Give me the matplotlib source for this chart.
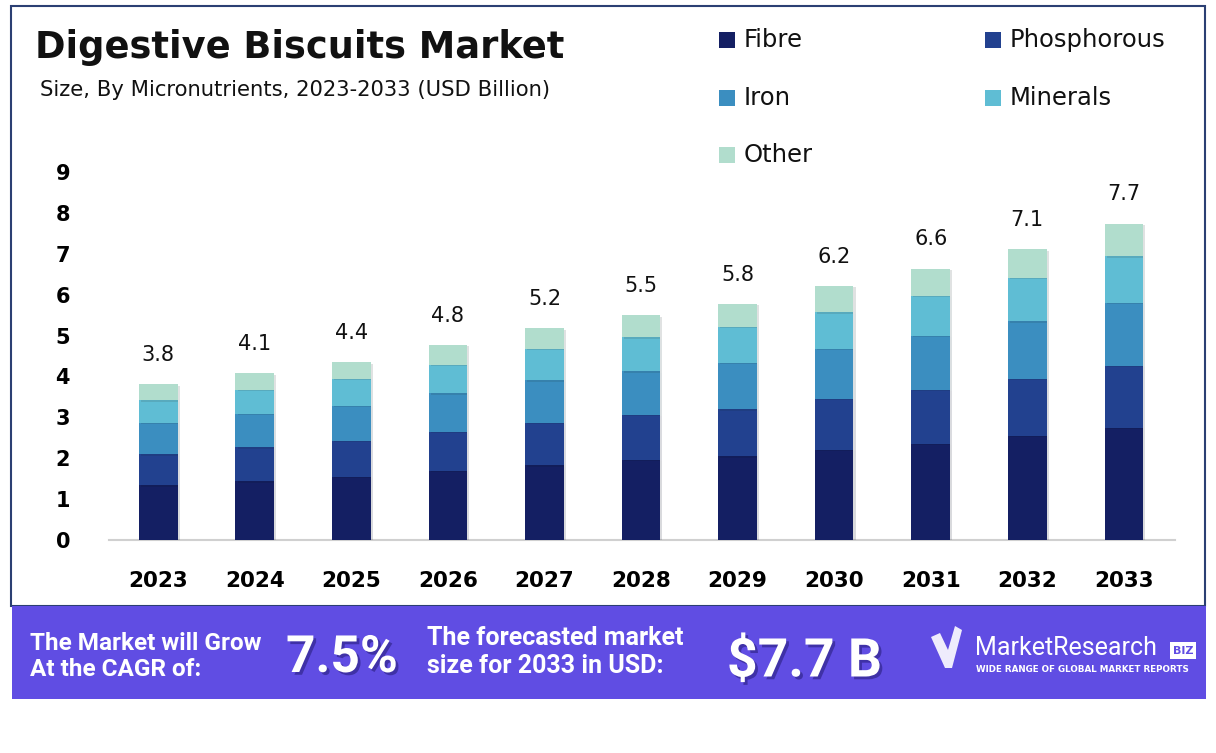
import matplotlib
matplotlib.use("Agg")
import matplotlib.pyplot as plt
import matplotlib.patheffects as pe
from matplotlib.patches import Rectangle, Polygon

# Data
years = ["2023", "2024", "2025", "2026", "2027", "2028", "2029", "2030", "2031", "2032", "2033"]
fibre = [1.34, 1.44, 1.54, 1.69, 1.83, 1.96, 2.05, 2.20, 2.35, 2.55, 2.75]
phosphorous = [0.76, 0.83, 0.88, 0.95, 1.03, 1.10, 1.15, 1.25, 1.32, 1.39, 1.51]
iron = [0.76, 0.81, 0.86, 0.95, 1.05, 1.07, 1.13, 1.22, 1.32, 1.41, 1.54]
minerals = [0.56, 0.60, 0.66, 0.69, 0.76, 0.83, 0.88, 0.90, 0.98, 1.06, 1.14]
other = [0.39, 0.40, 0.41, 0.49, 0.51, 0.54, 0.56, 0.64, 0.66, 0.70, 0.79]
totals = [3.8, 4.1, 4.4, 4.8, 5.2, 5.5, 5.8, 6.2, 6.6, 7.1, 7.7]
yticks = list(range(0, 10))

series = [
    ("Fibre", fibre, "#141f63"),
    ("Phosphorous", phosphorous, "#22418f"),
    ("Iron", iron, "#3b8ec0"),
    ("Minerals", minerals, "#5fbdd4"),
    ("Other", other, "#b1ddcd"),
]

W, H = 1216, 753
fig = plt.figure(figsize=(W / 100, H / 100), dpi=100)
fig.patch.set_facecolor("white")


def px(x, y):
    return x / W, 1 - y / H


# outer frame
fig.patches.append(Rectangle(px(11, 606), 1194 / W, 600 / H, transform=fig.transFigure,
                             fill=False, edgecolor="#2b3f73", linewidth=1.5))

ax = fig.add_axes([109 / W, 1 - 540 / H, (1175 - 109) / W, (540 - 172) / H])
x = list(range(len(years)))
bottom = [0.0] * len(years)
for name, vals, color in series:
    ax.bar(x, vals, width=0.4, bottom=bottom, color=color, label=name, zorder=3,
           path_effects=[pe.SimplePatchShadow(offset=(1.5, -1), alpha=0.15), pe.Normal()])
    bottom = [b + v for b, v in zip(bottom, vals)]

for xi, top, lab in zip(x, bottom, totals):
    ax.annotate(f"{lab}", (xi, top), xytext=(0, 14), textcoords="offset points",
                ha="center", va="bottom", fontsize=15, color="#111111")

ax.set_xlim(-0.51, 10.53)
ax.set_ylim(0, 9)
ax.set_yticks(yticks)
ax.set_yticklabels([str(t) for t in yticks], fontsize=15, fontweight="bold")
ax.set_xticks(x)
ax.set_xticklabels(years, fontsize=15.5, fontweight="bold")
ax.tick_params(axis="both", length=0)
ax.tick_params(axis="x", pad=22)
ax.tick_params(axis="y", pad=28)
for s in ["top", "right", "left"]:
    ax.spines[s].set_visible(False)
ax.spines["bottom"].set_color("#d0d0d0")
ax.spines["bottom"].set_linewidth(1.5)

# titles
fig.text(*px(35, 47), "Digestive Biscuits Market", fontsize=26.5, fontweight="bold",
         color="#111111", va="center", ha="left")
fig.text(*px(40, 90), "Size, By Micronutrients, 2023-2033 (USD Billion)", fontsize=15.2,
         color="#111111", va="center", ha="left")

# legend
leg_pos = [(719, 40), (985, 40), (719, 98), (985, 98), (719, 155)]
for (name, vals, color), (lx, ly) in zip(series, leg_pos):
    fig.patches.append(Rectangle(px(lx, ly + 8), 16 / W, 16 / H, transform=fig.transFigure,
                                 facecolor=color, edgecolor="none"))
    fig.text(*px(lx + 25, ly), name, fontsize=17.5, color="#111111", va="center", ha="left")

# bottom banner
fig.patches.append(Rectangle(px(12, 699), 1194 / W, 93 / H, transform=fig.transFigure,
                             facecolor="#604de3", edgecolor="none"))
narrow = ["Roboto", "DejaVu Sans"]
shadow = [pe.withSimplePatchShadow(offset=(2, -2), shadow_rgbFace="#2a1f80", alpha=0.6)]
fig.text(*px(30, 643), "The Market will Grow", fontsize=17.5, fontweight="bold", color="white",
         family=narrow, va="center")
fig.text(*px(30, 670), "At the CAGR of:", fontsize=17.5, fontweight="bold", color="white",
         family=narrow, va="center")
fig.text(*px(286, 658), "7.5%", fontsize=37, fontweight="bold", color="white",
         family=narrow, va="center", path_effects=shadow)
fig.text(*px(427, 638), "The forecasted market", fontsize=18, fontweight="bold", color="white",
         family=narrow, va="center")
fig.text(*px(427, 666), "size for 2033 in USD:", fontsize=18, fontweight="bold", color="white",
         family=narrow, va="center")
fig.text(*px(727, 662), "$7.7 B", fontsize=38.5, fontweight="bold", color="white",
         family=narrow, va="center", path_effects=shadow)

# logo
logo = [px(931, 637), px(940, 633), px(948, 650), px(955, 626), px(962, 630), px(952, 668), px(945, 668)]
fig.patches.append(Polygon(logo, closed=True, transform=fig.transFigure, facecolor="white",
                           edgecolor="none", alpha=0.9))
fig.text(*px(975, 648), "MarketResearch", fontsize=18, color="white", family=narrow,
         va="center", ha="left")
fig.patches.append(Rectangle(px(1170, 659), 26 / W, 17 / H, transform=fig.transFigure,
                             facecolor="white", edgecolor="none"))
fig.text(*px(1183, 650.5), "BIZ", fontsize=8, fontweight="bold", color="#604de3",
         va="center", ha="center")
fig.text(*px(976, 670), "WIDE RANGE OF GLOBAL MARKET REPORTS", fontsize=6.3, fontweight="bold",
         color="white", va="center", ha="left")

fig.savefig("out.png", dpi=100)
